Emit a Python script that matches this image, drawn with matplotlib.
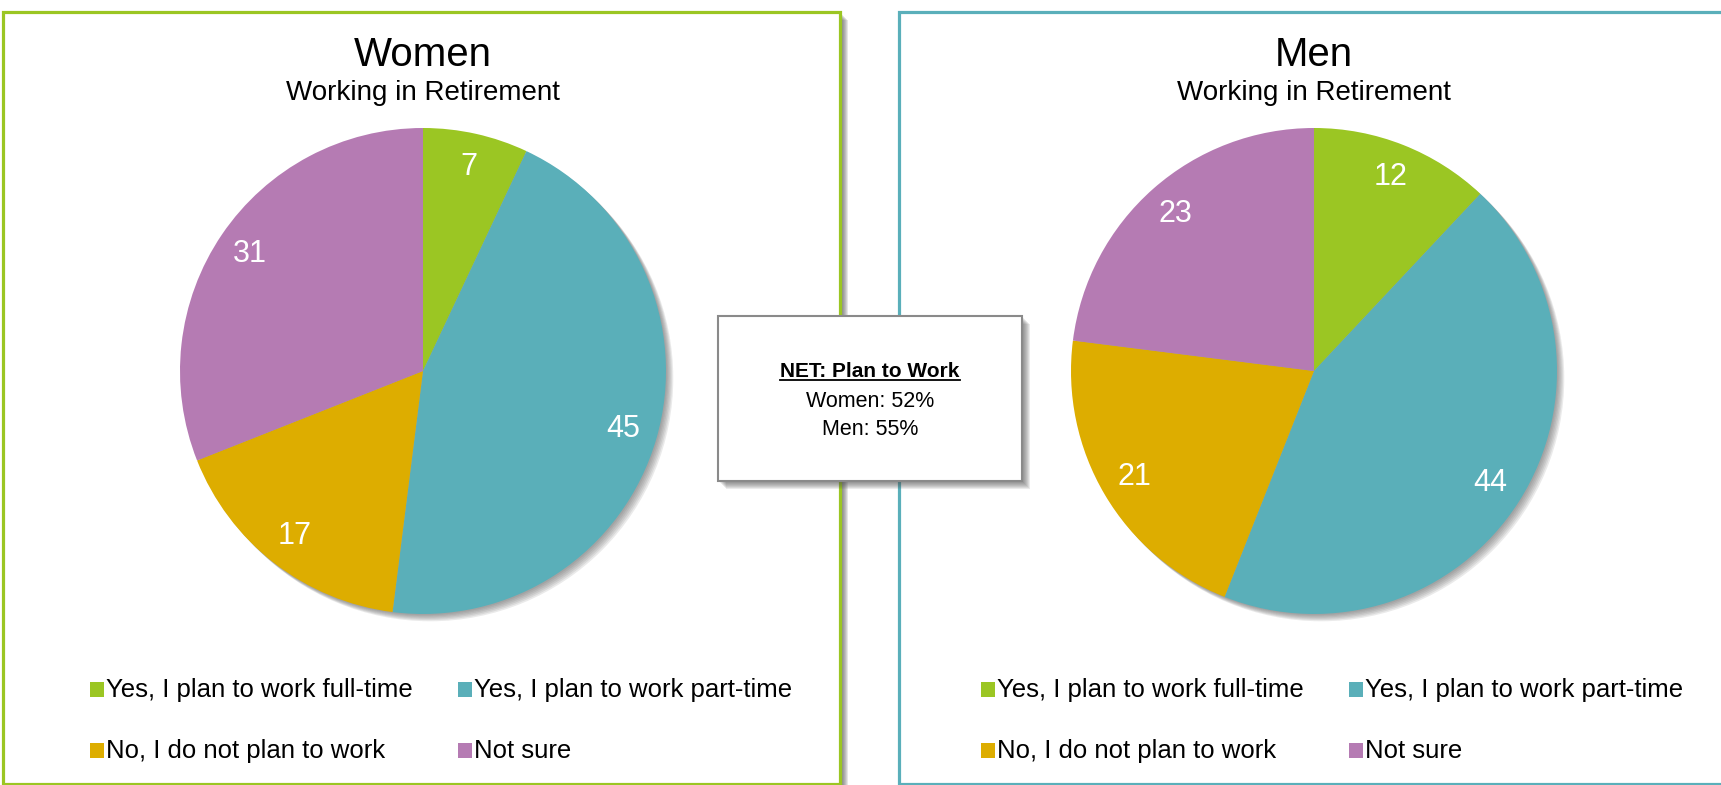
import numpy as np
import matplotlib.pyplot as plt
from matplotlib.patches import Rectangle, Circle
from matplotlib.lines import Line2D

# figure size in pixels
W, H = 1721, 785

# data
categories = ['Yes, I plan to work full-time', 'Yes, I plan to work part-time',
              'No, I do not plan to work', 'Not sure']
colors = ['#9BC623', '#5AAFB9', '#DDAD00', '#B57BB3']
women = [7, 45, 17, 31]
men = [12, 44, 21, 23]
panel_titles = ['Women', 'Men']
subtitle = 'Working in Retirement'
border_colors = ['#9BC623', '#5AAFBA']
net_title = 'NET: Plan to Work'
net_lines = ['Women: 52%', 'Men: 55%']

plt.rcParams['font.family'] = ['Liberation Sans', 'DejaVu Sans']

fig = plt.figure(figsize=(W / 100, H / 100), dpi=100)
bg = fig.add_axes([0, 0, 1, 1])
bg.set_xlim(0, W)
bg.set_ylim(H, 0)
bg.axis('off')


def shadowed_box(x, y, w, h, edge, lw, steps, z, alpha=0.12):
    # soft drop shadow made of a few offset translucent rectangles
    for i in range(1, steps + 1):
        bg.add_patch(Rectangle((x + i, y + i), w, h, facecolor='#505050',
                               edgecolor='none', alpha=alpha, zorder=z))
    bg.add_patch(Rectangle((x, y), w, h, facecolor='white', edgecolor=edge,
                           linewidth=lw, zorder=z + 1))


# panel frames
panels = [(3, 12, 837, 772), (899, 12, 832, 772)]
pie_cx = [423, 1314]
pie_cy = 371
pie_r = 243

for k in range(2):
    x, y, w, h = panels[k]
    shadowed_box(x, y, w, h, border_colors[k], 2.3, 8, 1, 0.14)

# pies
for k, vals in enumerate([women, men]):
    lim = 1.06
    cx = pie_cx[k]
    half = pie_r * lim
    ax = fig.add_axes([(cx - half) / W, (H - pie_cy - half) / H,
                       2 * half / W, 2 * half / H])
    for i in range(1, 7):
        ax.add_patch(Circle((0.005 * i, -0.005 * i), 1, color='#606060',
                            alpha=0.13, zorder=0, linewidth=0))
    wedges, texts = ax.pie(vals, colors=colors, startangle=90, counterclock=False,
                           radius=1, labels=[str(v) for v in vals],
                           labeldistance=0.86,
                           wedgeprops=dict(linewidth=0, zorder=2),
                           textprops=dict(color='white', fontsize=22))
    for t in texts:
        t.set_ha('center')
        t.set_va('center')
        t.set_zorder(3)
    ax.set_xlim(-lim, lim)
    ax.set_ylim(-lim, lim)
    ax.set_aspect('equal')
    ax.axis('off')

    # titles
    bg.text(cx, 66, panel_titles[k], fontsize=29, ha='center', va='baseline', zorder=3)
    bg.text(cx, 100, subtitle, fontsize=20, ha='center', va='baseline', zorder=3)

    # legend, two columns by two rows
    col_dx = [-333, 35]
    row_base = [697, 758]
    for i, cat in enumerate(categories):
        mx = cx + col_dx[i % 2]
        by = row_base[i // 2]
        bg.add_patch(Rectangle((mx, by - 15), 14, 15, facecolor=colors[i],
                               edgecolor='none', zorder=3))
        bg.text(mx + 16, by, cat, fontsize=18.5, ha='left', va='baseline', zorder=3)

# NET box in the middle
shadowed_box(718, 316, 304, 165, '#8a8a8a', 1.5, 8, 5, 0.11)
bx = 870
head = bg.text(bx, 377, net_title, fontsize=15, fontweight='bold',
               ha='center', va='baseline', zorder=7)
for j, line in enumerate(net_lines):
    bg.text(bx, [407, 435][j], line, fontsize=15.5, ha='center', va='baseline', zorder=7)

# underline the header
fig.canvas.draw()
bb = head.get_window_extent()
inv = bg.transData.inverted()
x0, _ = inv.transform((bb.x0, bb.y0))
x1, _ = inv.transform((bb.x1, bb.y0))
bg.add_line(Line2D([x0, x1], [380, 380], color='black', linewidth=1.3, zorder=7))

fig.savefig('out.png', dpi=100)
